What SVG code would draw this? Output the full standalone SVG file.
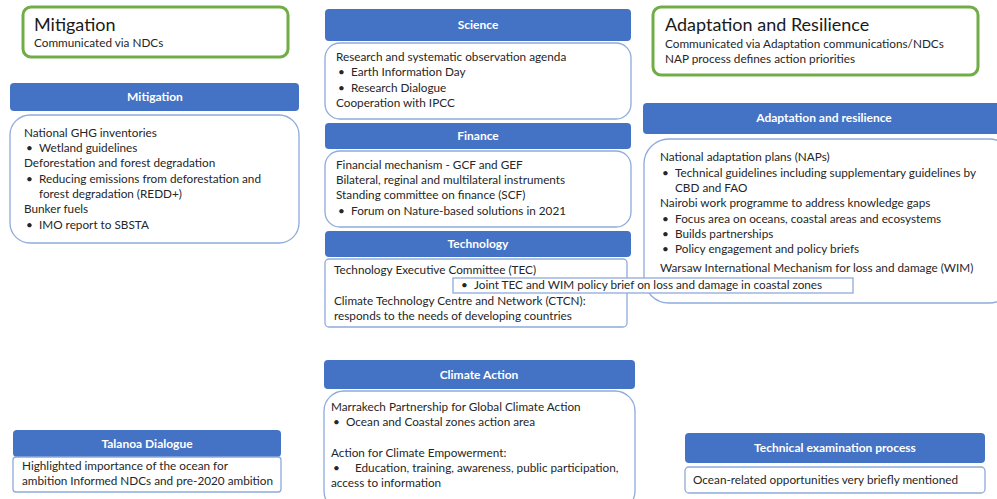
<svg xmlns="http://www.w3.org/2000/svg" width="997" height="499" viewBox="0 0 997 499">
<style>
.hdr{fill:#4472C4;}
.ht{font-family:Lato,"Liberation Sans",sans-serif;font-weight:bold;font-size:12px;fill:#fff;text-anchor:middle;}
.box{fill:#fff;stroke:#8FAADC;stroke-width:1.3;}
.grn{fill:#fff;stroke:#70AD47;stroke-width:3;}
.t{font-family:Lato,"Liberation Sans",sans-serif;font-size:11.75px;fill:#262626;}
.big{font-family:Lato,"Liberation Sans",sans-serif;font-size:18px;fill:#1a1a1a;}
</style>
<rect width="997" height="499" fill="#fff"/>
<g id="mitigation-summary">
<rect class="grn" x="23" y="7" width="265" height="50" rx="8"/>
<text class="big" x="34" y="31">Mitigation</text>
<text class="t" x="34" y="47">Communicated via NDCs</text>
</g>
<g id="adaptation-summary">
<rect class="grn" x="653" y="7" width="325" height="68" rx="8"/>
<text class="big" x="665" y="31">Adaptation and Resilience</text>
<text class="t" x="665" y="48">Communicated via Adaptation communications/NDCs</text>
<text class="t" x="665" y="63">NAP process defines action priorities</text>
</g>
<g id="mitigation">
<rect class="hdr" x="10" y="83" width="289" height="28" rx="4"/>
<text class="ht" x="155" y="101">Mitigation</text>
<rect class="box" x="10" y="115" width="289" height="128" rx="20"/>
<text class="t" x="24" y="137">National GHG inventories</text>
<text class="t" x="26" y="152">•</text><text class="t" x="39" y="152">Wetland guidelines</text>
<text class="t" x="24" y="167">Deforestation and forest degradation</text>
<text class="t" x="26" y="183">•</text><text class="t" x="39" y="183">Reducing emissions from deforestation and</text>
<text class="t" x="39" y="198">forest degradation (REDD+)</text>
<text class="t" x="24" y="213">Bunker fuels</text>
<text class="t" x="26" y="229">•</text><text class="t" x="39" y="229">IMO report to SBSTA</text>
</g>
<g id="science">
<rect class="hdr" x="325" y="9" width="306" height="32" rx="4"/>
<text class="ht" x="478" y="29">Science</text>
<rect class="box" x="325" y="43" width="306" height="76" rx="15"/>
<text class="t" x="336" y="61">Research and systematic observation agenda</text>
<text class="t" x="338" y="76">•</text><text class="t" x="351" y="76">Earth Information Day</text>
<text class="t" x="338" y="92">•</text><text class="t" x="351" y="92">Research Dialogue</text>
<text class="t" x="336" y="107">Cooperation with IPCC</text>
</g>
<g id="finance">
<rect class="hdr" x="325" y="123" width="306" height="26" rx="4"/>
<text class="ht" x="478" y="140">Finance</text>
<rect class="box" x="325" y="151" width="306" height="76" rx="15"/>
<text class="t" x="336" y="169">Financial mechanism - GCF and GEF</text>
<text class="t" x="336" y="184">Bilateral, reginal and multilateral instruments</text>
<text class="t" x="336" y="199">Standing committee on finance (SCF)</text>
<text class="t" x="338" y="215">•</text><text class="t" x="351" y="215">Forum on Nature-based solutions in 2021</text>
</g>
<g id="adaptation">
<rect class="hdr" x="643" y="103" width="360" height="31" rx="4"/>
<text class="ht" x="824" y="122">Adaptation and resilience</text>
<rect class="box" x="644" y="139" width="370" height="164" rx="25"/>
<text class="t" x="660" y="161">National adaptation plans (NAPs)</text>
<text class="t" x="662" y="177">•</text><text class="t" x="675" y="177">Technical guidelines including supplementary guidelines by</text>
<text class="t" x="675" y="192">CBD and FAO</text>
<text class="t" x="660" y="207">Nairobi work programme to address knowledge gaps</text>
<text class="t" x="662" y="223">•</text><text class="t" x="675" y="223">Focus area on oceans, coastal areas and ecosystems</text>
<text class="t" x="662" y="238">•</text><text class="t" x="675" y="238">Builds partnerships</text>
<text class="t" x="662" y="253">•</text><text class="t" x="675" y="253">Policy engagement and policy briefs</text>
<text class="t" x="660" y="272">Warsaw International Mechanism for loss and damage (WIM)</text>
</g>
<g id="technology">
<rect class="hdr" x="325" y="231" width="306" height="26" rx="4"/>
<text class="ht" x="478" y="248">Technology</text>
<rect class="box" x="325" y="259" width="302" height="68" rx="4"/>
<text class="t" x="334" y="274">Technology Executive Committee (TEC)</text>
<text class="t" x="334" y="305">Climate Technology Centre and Network (CTCN):</text>
<text class="t" x="334" y="320">responds to the needs of developing countries</text>
</g>
<g id="joint-brief">
<rect class="box" x="453" y="278" width="400" height="15" rx="0"/>
<text class="t" x="461" y="289">•</text><text class="t" x="474" y="289">Joint TEC and WIM policy brief on loss and damage in coastal zones</text>
</g>
<g id="climate-action">
<rect class="hdr" x="324" y="360" width="311" height="29" rx="4"/>
<text class="ht" x="479" y="379">Climate Action</text>
<rect class="box" x="324" y="391" width="311" height="120" rx="20"/>
<text class="t" x="331" y="411">Marrakech Partnership for Global Climate Action</text>
<text class="t" x="333" y="426">•</text><text class="t" x="346" y="426">Ocean and Coastal zones action area</text>
<text class="t" x="331" y="457">Action for Climate Empowerment:</text>
<text class="t" x="333" y="472">•</text><text class="t" x="355" y="472">Education, training, awareness, public participation,</text>
<text class="t" x="331" y="487">access to information</text>
</g>
<g id="talanoa">
<rect class="hdr" x="13" y="430" width="268" height="27" rx="4"/>
<text class="ht" x="147" y="448">Talanoa Dialogue</text>
<rect class="box" x="13" y="457" width="268" height="35" rx="3"/>
<text class="t" x="22" y="470">Highlighted importance of the ocean for</text>
<text class="t" x="22" y="485">ambition Informed NDCs and pre-2020 ambition</text>
</g>
<g id="technical-examination">
<rect class="hdr" x="685" y="433" width="300" height="30" rx="4"/>
<text class="ht" x="835" y="452">Technical examination process</text>
<rect class="box" x="685" y="467" width="300" height="26" rx="4"/>
<text class="t" x="693" y="484">Ocean-related opportunities very briefly mentioned</text>
</g>
<g id="connectors"></g>
</svg>
